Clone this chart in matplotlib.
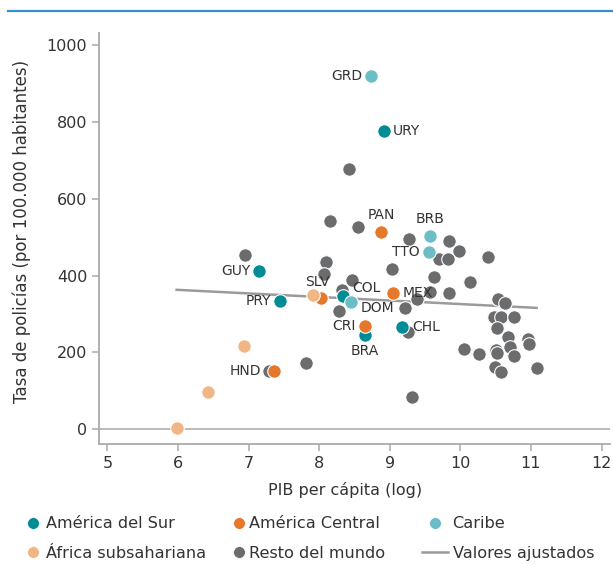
import matplotlib
matplotlib.use("Agg")
import matplotlib.pyplot as plt
from matplotlib.lines import Line2D

plt.rcParams['font.family'] = ['DejaVu Sans']

# ---- data ----
sur_x = [8.92, 7.15, 7.44, 8.34, 8.65, 9.17]
sur_y = [776, 413, 334, 347, 246, 267]
sur_lab = ["URY", "GUY", "PRY", "COL", "BRA", "CHL"]

cen_x = [8.88, 8.02, 8.65, 9.05, 7.36]
cen_y = [513, 341, 269, 356, 153]
cen_lab = ["PAN", "SLV", "CRI", "MEX", "HND"]

car_x = [8.74, 9.57, 9.56, 8.45]
car_y = [919, 503, 462, 330]
car_lab = ["GRD", "BRB", "TTO", "DOM"]

afr_x = [7.91, 6.94, 6.42, 5.98]
afr_y = [350, 218, 98, 3]

rest_x = [8.42, 8.15, 8.55, 9.27, 6.95, 8.10, 8.07, 8.46, 8.32, 8.28,
          9.03, 9.21, 9.38, 9.84, 9.98, 9.70, 9.82, 10.39, 9.62, 10.13,
          9.57, 9.84, 9.26, 10.53, 10.63, 10.48, 10.57, 10.76, 10.52, 10.67,
          10.96, 10.97, 10.71, 10.05, 10.26, 10.51, 10.52, 10.76, 10.49, 10.58,
          11.08, 9.32, 7.81, 7.29]
rest_y = [677, 542, 527, 495, 453, 436, 404, 389, 363, 308,
          417, 315, 340, 491, 465, 443, 443, 449, 397, 384,
          358, 356, 252, 339, 328, 291, 293, 293, 263, 240,
          235, 222, 213, 209, 196, 206, 198, 191, 163, 149,
          159, 85, 172, 152]

fit_x = [5.98, 11.08]
fit_y = [363, 316]

xticks = [5, 6, 7, 8, 9, 10, 11, 12]
yticks = [0, 200, 400, 600, 800, 1000]

# label offsets in pixels (dx, dy, ha)
label_pos = {
    "URY": (9, 0, 'left'), "GUY": (-9, 0, 'right'), "PRY": (-9, 0, 'right'),
    "COL": (9, 8, 'left'), "BRA": (0, -16, 'center'), "CHL": (10, 0, 'left'),
    "PAN": (0, 17, 'center'), "SLV": (-3, 16, 'center'), "CRI": (-9, 0, 'right'),
    "MEX": (9, 0, 'left'), "HND": (-13, 0, 'right'),
    "GRD": (-9, 0, 'right'), "BRB": (0, 17, 'center'), "TTO": (-10, 0, 'right'),
    "DOM": (10, -6, 'left'),
}

C_SUR = "#008C95"
C_CEN = "#E5782A"
C_CAR = "#6CBEC6"
C_AFR = "#F0B685"
C_REST = "#6B6C6E"
C_FIT = "#9B9B9B"
C_AX = "#AAAAAA"
C_TXT = "#333333"

fig = plt.figure(figsize=(6.13, 5.65), dpi=100)
ax = fig.add_axes([0.1615, 0.2142, 0.8336, 0.7274])

ax.set_xlim(4.88, 12.12)
ax.set_ylim(-38, 1031)

ax.axhline(0, color="#BBBBBB", lw=1.4, zorder=1)
ax.plot(fit_x, fit_y, color=C_FIT, lw=1.8, zorder=2)

kw = dict(s=95, edgecolors='white', linewidths=0.8, zorder=3)
ax.scatter(rest_x, rest_y, color=C_REST, **kw)
ax.scatter(sur_x, sur_y, color=C_SUR, **kw)
ax.scatter(cen_x, cen_y, color=C_CEN, **kw)
ax.scatter(car_x, car_y, color=C_CAR, **kw)
ax.scatter(afr_x, afr_y, color=C_AFR, **kw)

for xs, ys, labs in [(sur_x, sur_y, sur_lab), (cen_x, cen_y, cen_lab), (car_x, car_y, car_lab)]:
    for x, y, l in zip(xs, ys, labs):
        dx, dy, ha = label_pos[l]
        ax.annotate(l, (x, y), xytext=(dx, dy), textcoords='offset pixels',
                    ha=ha, va='center', fontsize=10, color=C_TXT, zorder=5)

for s in ['top', 'right']:
    ax.spines[s].set_visible(False)
for s in ['left', 'bottom']:
    ax.spines[s].set_color(C_AX)
    ax.spines[s].set_linewidth(1.3)

ax.set_xticks(xticks)
ax.set_yticks(yticks)
ax.tick_params(colors=C_AX, labelcolor=C_TXT, labelsize=11.5, length=5, width=1.1)
ax.set_xlabel("PIB per cápita (log)", fontsize=11.5, color=C_TXT, labelpad=8, x=0.481)
ax.set_ylabel("Tasa de policías (por 100.000 habitantes)", fontsize=12, color=C_TXT,
              labelpad=11, y=0.516)

# top decorative line
fig.add_artist(Line2D([8/613, 1.0], [1 - 11/565, 1 - 11/565], color="#3A8FC8", lw=1.6))

def mk(c):
    return Line2D([], [], marker='o', linestyle='none', markersize=8.5,
                  markerfacecolor=c, markeredgecolor='white', markeredgewidth=0.5)

common = dict(frameon=False, fontsize=11.6, loc='center left', borderpad=0, borderaxespad=0,
              labelspacing=0.9, labelcolor=C_TXT)
yc = 1 - 538.5 / 565
fig.legend([mk(C_SUR), mk(C_AFR)], ["América del Sur", "África subsahariana"],
           bbox_to_anchor=(26/613, yc), handlelength=0.9, handletextpad=0.35, **common)
fig.legend([mk(C_CEN), mk(C_REST)], ["América Central", "Resto del mundo"],
           bbox_to_anchor=(232/613, yc), handlelength=0.9, handletextpad=0.15, **common)
fig.legend([mk(C_CAR), Line2D([], [], color=C_FIT, lw=1.8)], ["Caribe", "Valores ajustados"],
           bbox_to_anchor=(422/613, yc), handlelength=1.6, handletextpad=0.3, **common)

fig.savefig("out.png", dpi=100)
